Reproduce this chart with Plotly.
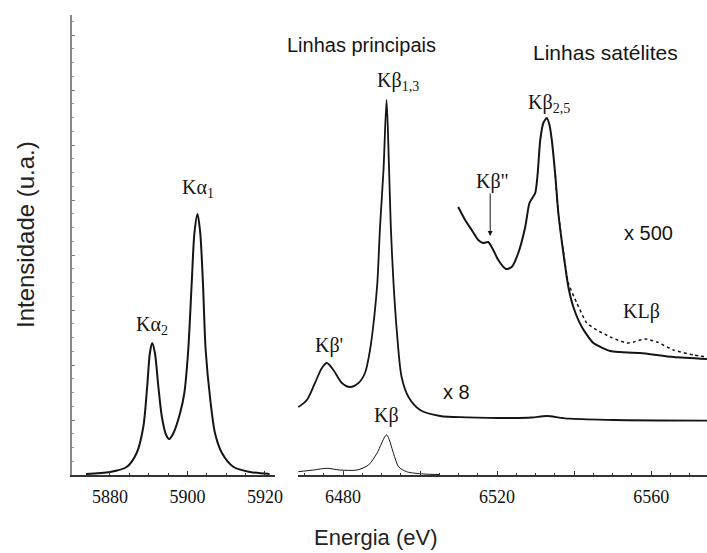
import plotly.graph_objects as go

# ---------------- data (energy in eV, intensity in arbitrary units) ----------------
ka_energy = [5873.8, 5880.0, 5884.3, 5886.9, 5888.6, 5889.6, 5890.3, 5890.9, 5891.6, 5892.5,
             5893.4, 5894.5, 5895.3, 5896.4, 5898.1, 5899.2, 5900.2, 5901.1, 5901.8, 5902.6,
             5903.3, 5904.0, 5904.7, 5905.9, 5907.1, 5908.9, 5911.9, 5916.2, 5921.2]
ka_int = [1, 3, 8, 22, 48, 88, 122, 132, 122, 88,
          58, 40, 36, 42, 62, 82, 125, 192, 242, 261,
          242, 192, 125, 75, 42, 22, 8, 3, 1]

kb8_energy = [6468.4, 6470.6, 6472.7, 6474.5, 6475.8, 6477.5, 6479.7, 6481.8, 6484.0, 6485.7,
              6487.0, 6488.1, 6488.9, 6489.6, 6490.5, 6491.3, 6491.9, 6492.4, 6493.1, 6494.0,
              6495.2, 6497.0, 6500.0, 6505.2, 6512.1, 6524.2, 6529.0, 6532.9, 6537.0, 6539.0,
              6550.2, 6574.5]
kb8_int = [68, 75, 92, 107, 112, 105, 92, 88, 92, 102,
           125, 158, 192, 248, 305, 375, 312, 248, 192, 142,
           98, 78, 65, 59, 57.7, 57, 57.5, 59, 57, 56.3,
           55, 54.3]

kb1_energy = [6468.4, 6472.3, 6475.8, 6479.2, 6483.6, 6486.6, 6488.8, 6491.3, 6493.1, 6494.4,
              6496.5, 6500.9, 6505.0]
kb1_int = [3.3, 5, 6.7, 5, 5, 10, 21.7, 40, 21.7, 8.3,
           3.3, 1, 0.5]

sat_energy = [6509.9, 6511.7, 6513.4, 6515.1, 6516.4, 6517.7, 6519.0, 6520.3, 6522.3, 6523.8,
              6525.5, 6527.3, 6528.4, 6529.9, 6530.5, 6531.2, 6532.0, 6532.9, 6533.6, 6534.2,
              6535.1, 6535.9, 6537.2, 6538.5, 6539.8, 6542.0, 6545.0, 6549.4, 6551.9, 6557.1,
              6565.8, 6574.5]
sat_int = [268, 255, 245, 235, 232, 233, 225, 215, 206, 208,
           222, 248, 272, 282, 300, 335, 352, 357, 350, 335,
           300, 262, 222, 188, 168, 148, 132, 124, 123, 122,
           118, 116]

dot_energy = [6535.1, 6535.9, 6537.2, 6538.5, 6540.7, 6543.3, 6545.9, 6549.4, 6553.7, 6555.4,
              6558.4, 6561.5, 6565.8, 6571.0, 6574.5]
dot_int = [300, 262, 224, 192, 172, 152, 145, 138, 132, 133,
           136, 133, 125, 120, 118]

left_ticks = [5880, 5900, 5920]
left_ticktext = ["5880", "5900", "5920"]
right_ticks = [6480, 6500, 6520, 6540, 6560]
right_ticktext = ["6480", "", "6520", "", "6560"]

# ---------------- figure ----------------
SERIF = "Liberation Serif, Times New Roman, serif"
SANS = "Liberation Sans, Arial, sans-serif"
INK = "#151515"

fig = go.Figure()
fig.add_trace(go.Scatter(x=ka_energy, y=ka_int, mode="lines", xaxis="x", yaxis="y",
                         line=dict(color=INK, width=2, shape="spline", smoothing=0.8)))
fig.add_trace(go.Scatter(x=kb8_energy, y=kb8_int, mode="lines", xaxis="x2", yaxis="y",
                         line=dict(color=INK, width=1.8, shape="spline", smoothing=0.8)))
fig.add_trace(go.Scatter(x=kb1_energy, y=kb1_int, mode="lines", xaxis="x2", yaxis="y",
                         line=dict(color=INK, width=1, shape="spline", smoothing=0.8)))
fig.add_trace(go.Scatter(x=sat_energy, y=sat_int, mode="lines", xaxis="x2", yaxis="y",
                         line=dict(color=INK, width=2, shape="spline", smoothing=0.6)))
fig.add_trace(go.Scatter(x=dot_energy, y=dot_int, mode="lines", xaxis="x2", yaxis="y",
                         line=dict(color=INK, width=1.5, dash="dot", shape="spline", smoothing=0.6)))

xaxis_common = dict(showline=True, linecolor="#333", linewidth=1.5, ticks="inside",
                    ticklen=4, tickcolor="#333", showgrid=False, zeroline=False,
                    automargin=False,
                    tickfont=dict(family=SERIF, size=18, color="#111"),
                    ticklabelstandoff=5)

fig.update_layout(
    width=707, height=553, autosize=False,
    margin=dict(l=72, r=0, t=15, b=78, pad=0, autoexpand=False),
    paper_bgcolor="white", plot_bgcolor="white",
    showlegend=False,
    xaxis=dict(domain=[0, 0.3197], range=[5870.2, 5922.6], anchor="y",
               tickvals=left_ticks, ticktext=left_ticktext, **xaxis_common,
               minor=dict(ticks="inside", ticklen=2, dtick=5, tick0=5880, tickcolor="#333", showgrid=False)),
    xaxis2=dict(domain=[0.3559, 1], range=[6468.3, 6574.5], anchor="y",
                tickvals=right_ticks, ticktext=right_ticktext, **xaxis_common,
                minor=dict(ticks="inside", ticklen=2, dtick=5, tick0=6480, tickcolor="#333", showgrid=False)),
    yaxis=dict(range=[0, 460], anchor="x", showline=True, linecolor="#888", linewidth=1.5,
               automargin=False,
               ticks="inside", ticklen=3, tickcolor="#777", tickvals=[55 * i for i in range(1, 9)],
               showticklabels=False, showgrid=False, zeroline=False,
               minor=dict(ticks="inside", ticklen=2, dtick=13.75, tick0=0, tickcolor="#999", showgrid=False)),
)

def label(text, x, y, xref, size=20, family=SERIF):
    fig.add_annotation(text=text, x=x, y=y, xref=xref, yref="y", showarrow=False,
                       font=dict(family=family, size=size, color=INK),
                       xanchor="center", yanchor="middle")

label("Kα<sub>2</sub>", 5890.9, 150, "x")
label("Kα<sub>1</sub>", 5902.7, 287, "x")
label("Kβ<sub>1,3</sub>", 6494.2, 394, "x2")
label("Kβ<sub>2,5</sub>", 6533.5, 372, "x2")
label("Kβ\"", 6518.7, 294, "x2")
label("KLβ", 6557.4, 164, "x2")
label("Kβ'", 6476.4, 130, "x2")
label("Kβ", 6491.2, 60, "x2")
label("Linhas principais", 6484.9, 430, "x2", size=20, family=SANS)
label("Linhas satélites", 6548.1, 423, "x2", size=21, family=SANS)
label("x 500", 6559.2, 242, "x2", size=20, family=SANS)
label("x 8", 6509.4, 83, "x2", size=20, family=SANS)

# arrow pointing to the Kβ" feature
fig.add_annotation(x=6518.2, y=239, xref="x2", yref="y", ax=0, ay=-44, text="",
                   showarrow=True, arrowhead=2, arrowsize=1, arrowwidth=1, arrowcolor=INK)

# axis titles
fig.add_annotation(text="Intensidade (u.a.)", x=-0.074, y=0.5217, xref="paper", yref="paper",
                   showarrow=False, textangle=-90, xanchor="center", yanchor="middle",
                   font=dict(family=SANS, size=24, color="#222"))
fig.add_annotation(text="Energia (eV)", x=0.4787, y=-0.136, xref="paper", yref="paper",
                   showarrow=False, xanchor="center", yanchor="middle",
                   font=dict(family=SANS, size=22, color="#222"))

fig.write_html("out.html", config={"responsive": False})
